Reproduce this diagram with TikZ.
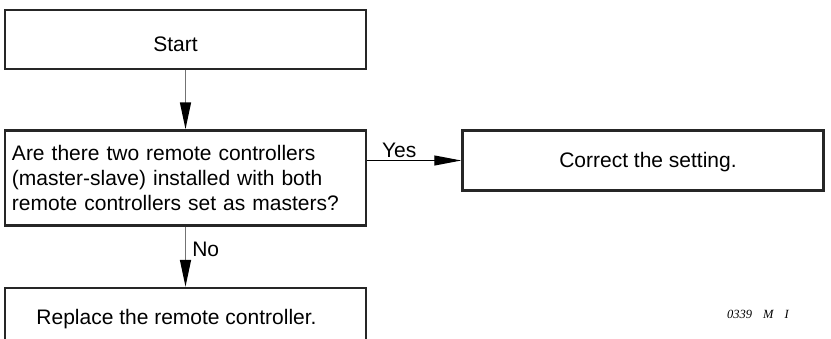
\documentclass[tikz,border=0pt]{standalone}
\usepackage{fontspec}
\setmainfont{Liberation Sans}
\newfontfamily\codefont{Liberation Serif}
\usetikzlibrary{arrows.meta,positioning}
% move text inside a box without changing the box
\newcommand{\nudge}[3]{\raisebox{#2}[\height][\depth]{\hspace*{#1}#3\hspace*{-#1}}}

\begin{document}
\begin{tikzpicture}[x=1pt,y=-1pt,
      box/.style={draw=black!85,line width=2.5pt,minimum width=361pt,inner sep=0pt,align=center,font=\fontsize{21}{25}\selectfont},
      arr/.style={draw=black!55,line width=1.5pt,-{Triangle[length=27pt,width=11pt,color=black]}},
      yesarr/.style={draw=black,line width=1pt,-{Triangle[length=27pt,width=10pt,color=black]}},
      lbl/.style={font=\fontsize{21}{24}\selectfont,inner sep=2pt}
    ]
    \useasboundingbox (0,0) rectangle (831,338);
    \clip (0,0) rectangle (831,338);
    \node[box,minimum height=59pt] (start) at (185.5,39.5) {\nudge{-10pt}{-5pt}{Start}};
    \node[box,minimum height=95pt,below=59pt of start,align=left,text width=347pt] (check)
      {Are there two remote controllers\\(master-slave) installed with both\\remote controllers set as masters?};
    \node[box,minimum height=60pt,right=94pt of check.north east,anchor=north west] (fix) {\nudge{5pt}{-2pt}{Correct the setting.}};
    \node[box,minimum height=62pt,below=60pt of check,anchor=north] (replace) {\nudge{-9pt}{0pt}{Replace the remote controller.}};
    \node[font=\codefont\itshape\fontsize{12.5}{14}\selectfont] (code) at (758,314) {0339\hspace{11pt}M\hspace{11pt}I};
    \draw[arr] (start) -- (check);
    \draw[yesarr] (check.east |- fix.west) -- node[lbl,above,pos=0.34]{Yes} (fix.west);
    \draw[arr] (check) -- node[lbl,right,pos=0.38,xshift=4pt]{No} (replace);
  \end{tikzpicture}
\end{document}
